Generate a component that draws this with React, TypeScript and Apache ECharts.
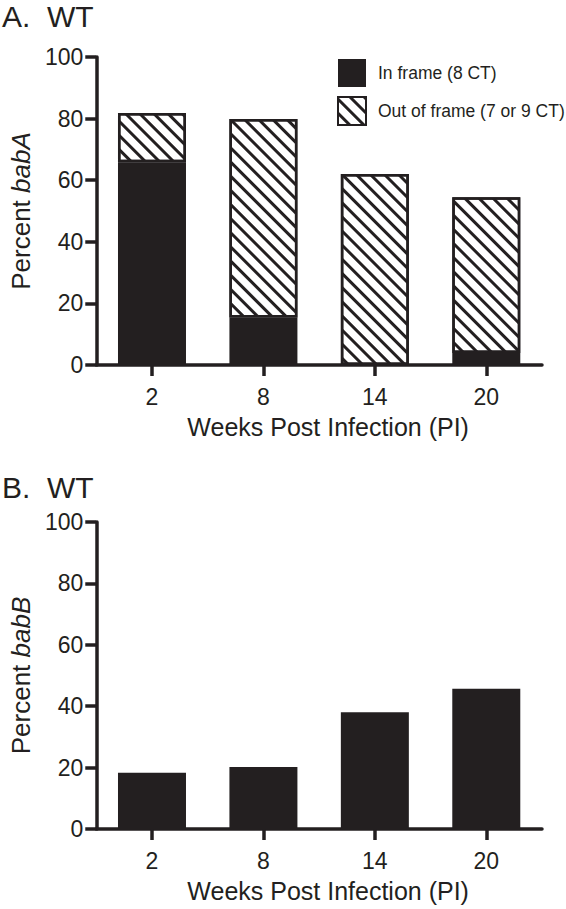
import React, { useEffect, useRef } from "react";
import * as echarts from "echarts";

const weeks = ["2", "8", "14", "20"];
const inFrameA = [65.8, 15.4, 0, 3.9];
const outFrameA = [16.0, 64.5, 62.0, 50.6];
const babB = [18.3, 20.2, 38.0, 45.7];
const yTicks = { min: 0, max: 100, interval: 20 };

const INK = "#231f20";
const FONT = "'Liberation Sans', Arial, Helvetica, sans-serif";

export default function App() {
  const ref = useRef<HTMLDivElement>(null);
  useEffect(() => {
    if (!ref.current) return;
    const chart = echarts.init(ref.current, null, { renderer: "svg" });
    const axisLineStyle = { color: INK, width: 3.5 };
    const mkX = (gridIndex: number) => ({
      type: "category",
      gridIndex,
      data: weeks,
      axisLine: { show: true, lineStyle: axisLineStyle },
      axisTick: { show: true, alignWithLabel: true, length: 11, lineStyle: axisLineStyle },
      axisLabel: { color: INK, fontSize: 23, fontFamily: FONT, margin: 20 },
      name: "Weeks Post Infection (PI)",
      nameLocation: "middle",
      nameGap: 49,
      nameTextStyle: { color: INK, fontSize: 25, fontFamily: FONT, padding: [0, 0, 0, 18] },
    });
    const mkY = (gridIndex: number, gene: string) => ({
      type: "value",
      gridIndex,
      min: yTicks.min,
      max: yTicks.max,
      interval: yTicks.interval,
      splitLine: { show: false },
      axisLine: { show: true, lineStyle: axisLineStyle },
      axisTick: { show: true, length: 11, lineStyle: axisLineStyle },
      axisLabel: { color: INK, fontSize: 23, fontFamily: FONT, margin: 13 },
      name: "Percent {i|" + gene + "}",
      nameLocation: "middle",
      nameGap: 52,
      nameTextStyle: {
        color: INK,
        fontSize: 26,
        fontFamily: FONT,
        rich: { i: { color: INK, fontSize: 26, fontFamily: FONT, fontStyle: "italic" } },
      },
    });
    const hatch = {
      symbol: "rect",
      symbolSize: 1,
      symbolKeepAspect: false,
      color: INK,
      backgroundColor: "#ffffff",
      dashArrayX: [1, 0],
      dashArrayY: [3, 6.5],
      rotation: Math.PI / 4,
    };
    chart.setOption({
      animation: false,
      backgroundColor: "#ffffff",
      textStyle: { fontFamily: FONT, color: INK },
      title: [
        { text: "A.  WT", left: 2, top: 1, padding: 0, textStyle: { fontSize: 30, fontWeight: "normal", color: INK, fontFamily: FONT } },
        { text: "B.  WT", left: 2, top: 472, padding: 0, textStyle: { fontSize: 30, fontWeight: "normal", color: INK, fontFamily: FONT } },
      ],
      legend: {
        orient: "vertical",
        left: 337,
        top: 59,
        padding: 0,
        itemWidth: 28,
        itemHeight: 28,
        itemGap: 9,
        icon: "rect",
        data: ["In frame (8 CT)", "Out of frame (7 or 9 CT)"],
        textStyle: { color: INK, fontSize: 17.5, fontFamily: FONT, padding: [0, 0, 0, 7] },
      },
      grid: [
        { left: 81, right: 24, top: 57, bottom: 544 },
        { left: 81, right: 24, top: 522, bottom: 80 },
      ],
      xAxis: [mkX(0), mkX(1)],
      yAxis: [mkY(0, "babA"), mkY(1, "babB")],
      series: [
        {
          name: "In frame (8 CT)",
          type: "bar",
          xAxisIndex: 0,
          yAxisIndex: 0,
          stack: "a",
          barWidth: 68,
          data: inFrameA,
          itemStyle: { color: INK },
        },
        {
          name: "Out of frame (7 or 9 CT)",
          type: "bar",
          xAxisIndex: 0,
          yAxisIndex: 0,
          stack: "a",
          barWidth: 68,
          data: outFrameA,
          itemStyle: { color: "#ffffff", borderColor: INK, borderWidth: 2.5, decal: hatch },
        },
        {
          name: "babB",
          type: "bar",
          xAxisIndex: 1,
          yAxisIndex: 1,
          barWidth: 68,
          data: babB,
          itemStyle: { color: INK },
        },
      ],
    });
    return () => chart.dispose();
  }, []);
  return (
    <div
      ref={ref}
      style={{ position: "absolute", left: 0, top: 0, width: 566, height: 909, background: "#fff" }}
    />
  );
}
